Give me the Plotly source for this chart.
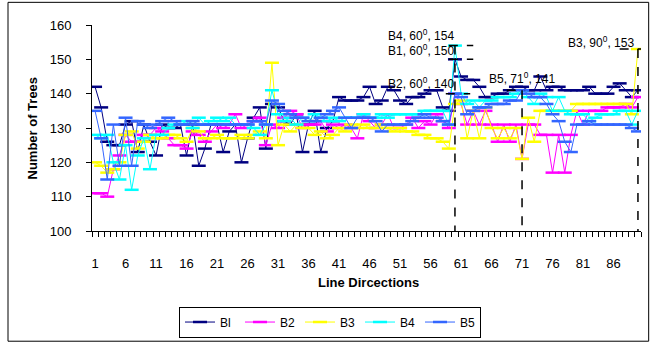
import plotly.graph_objects as go

categories = list(range(1, 91))
tick_labels = [str(v) for v in range(1, 90, 5)]

B1 = [142,136,126,125,125,131,132,123,131,126, 122,131,130,130,131,122,131,119,124,131,
      131,123,129,131,120,127,133,136,124,137, 136,132,131,134,123,131,135,123,130,132,
      139,138,138,138,139,142,137,138,142,141, 138,137,139,139,140,141,141,136,135,150,
      145,144,144,142,139,139,140,140,141,142, 142,141,141,145,141,142,142,141,141,141,
      141,142,140,140,140,142,143,141,139,141]
B2 = [111,111,110,118,122,128,126,126,128,128, 130,129,127,125,125,124,129,128,126,129,
      131,130,131,134,130,131,132,133,125,131, 130,133,135,134,130,131,131,132,129,131,
      130,131,130,127,134,132,130,131,134,130, 130,131,133,130,132,131,134,132,130,140,
      137,131,135,131,135,131,126,131,126,131, 121,131,131,128,128,117,128,117,128,135,
      131,135,135,135,136,136,136,137,136,139]
B3 = [120,119,117,118,120,128,129,124,126,128, 127,127,128,128,127,126,130,129,127,127,
      128,127,127,127,128,127,128,129,127,149, 125,131,129,131,130,130,128,129,127,128,
      130,129,131,130,131,130,130,131,130,129, 130,129,129,128,128,127,127,126,124,137,
      138,127,135,127,136,130,127,130,127,130, 121,133,126,135,135,135,135,135,135,137,
      137,137,137,137,137,137,137,137,134,153]
B4 = [128,127,128,120,115,125,112,122,127,118, 128,128,130,131,131,132,130,133,131,132,
      133,132,133,131,131,131,130,128,131,141, 134,132,133,131,133,132,134,133,132,133,
      132,133,133,133,134,133,133,134,133,134, 134,134,134,134,135,135,135,135,131,154,
      140,137,138,136,138,138,139,139,139,140, 141,139,137,140,139,135,139,135,134,134,
      134,132,133,134,134,134,135,135,131,135]
B5 = [135,127,115,131,119,133,119,132,131,130, 131,132,133,132,131,131,132,131,131,131,
      131,131,131,131,131,131,132,132,131,138, 137,135,134,133,133,132,132,133,134,135,
      136,133,130,133,133,133,132,129,131,131, 131,131,132,133,134,133,133,132,131,140,
      139,134,135,136,136,137,137,137,138,138, 141,140,139,139,137,134,132,126,123,131,
      131,132,131,131,131,131,131,131,130,129]

series = [("Bl", B1, "#000080"), ("B2", B2, "#FF00FF"), ("B3", B3, "#FFFF00"),
          ("B4", B4, "#00FFFF"), ("B5", B5, "#3366FF")]

# callouts: (label, category, value)
callouts = [("B4", 60, 154), ("B1", 60, 150), ("B2", 60, 140), ("B5", 71, 141), ("B3", 90, 153)]

FONT = "Liberation Sans, Arial, sans-serif"
fig = go.Figure()
for name, vals, col in series:
    fig.add_trace(go.Scatter(
        x=categories, y=vals, name=name, mode="lines+markers",
        line=dict(color=col, width=1),
        marker=dict(symbol="line-ew", size=10, color=col, line=dict(width=2.5, color=col)),
    ))

shapes = []
dash = dict(color="black", width=1.5, dash="dash")
for cat, val in [(60, 154), (71, 141), (90, 153)]:
    shapes.append(dict(type="line", xref="x", yref="y", x0=cat, x1=cat, y0=val, y1=99, line=dash))
for x0, x1, val in [(59.0, 63.0, 154), (59.0, 63.0, 150), (58.5, 62.5, 140), (68.5, 71.5, 141), (87.0, 90.5, 153)]:
    shapes.append(dict(type="line", xref="x", yref="y", x0=x0, x1=x1, y0=val, y1=val, line=dash))
# chart border (four sides)
bx0, bx1, by0, by1 = -0.153, 1.014, -0.535, 1.11
border = dict(color="black", width=1)
for a, b, c, d in [(bx0, by0, bx0, by1), (bx1, by0, bx1, by1), (bx0, by0, bx1, by0), (bx0, by1, bx1, by1)]:
    shapes.append(dict(type="line", xref="paper", yref="paper", x0=a, y0=b, x1=c, y1=d, line=border))

annotations = []
text_pos = {"B4": (386, 35), "B1": (386, 50), "B2": (386, 84), "B5": (487, 79), "B3": (566, 42)}
for lab, cat, val in callouts:
    px, py = text_pos[lab]
    annotations.append(dict(
        xref="paper", yref="paper", x=(px - 92) / 549, y=(235 - py) / 210,
        xanchor="left", yanchor="middle", showarrow=False,
        text=f"{lab}, {cat}<sup>0</sup>, {val}", font=dict(family=FONT, size=12, color="black")))
annotations.append(dict(xref="paper", yref="paper", x=(368 - 92) / 549, y=(235 - 297) / 210,
                        text="<b>Line Dircections</b>", showarrow=False,
                        font=dict(family=FONT, size=13, color="black")))
annotations.append(dict(xref="paper", yref="paper", x=(22 - 92) / 549, y=0.5, textangle=-90,
                        text="<b>Number of Trees</b>", showarrow=False,
                        font=dict(family=FONT, size=13, color="black")))

fig.update_layout(
    width=652, height=349,
    margin=dict(l=92, r=11, t=25, b=114),
    paper_bgcolor="white", plot_bgcolor="white",
    font=dict(family=FONT, size=13, color="black"),
    showlegend=True,
    legend=dict(orientation="h", x=(330 - 92) / 549, xanchor="center", y=(235 - 312) / 210, yanchor="top",
                bordercolor="black", borderwidth=1, font=dict(size=12), itemwidth=30,
                entrywidth=15, entrywidthmode="pixels", tracegroupgap=0),
    shapes=shapes, annotations=annotations,
    xaxis=dict(range=[0.5, 90.5], tickmode="array", tickvals=[int(t) for t in tick_labels], ticktext=tick_labels,
               showline=True, linecolor="black", linewidth=1, showgrid=False, zeroline=False,
               ticks="", ticklabelstandoff=20,
               minor=dict(tick0=0.5, dtick=1, ticks="outside", ticklen=5, tickcolor="black", showgrid=False)),
    yaxis=dict(range=[100, 160], dtick=10, showline=True, linecolor="black", linewidth=1,
               showgrid=False, zeroline=False, ticks="outside", ticklen=5, tickcolor="black",
               ticklabelstandoff=12),
)

fig.write_html("out.html", config={"displayModeBar": False},
               post_script="document.body.style.margin='0';document.body.style.overflow='hidden';")
